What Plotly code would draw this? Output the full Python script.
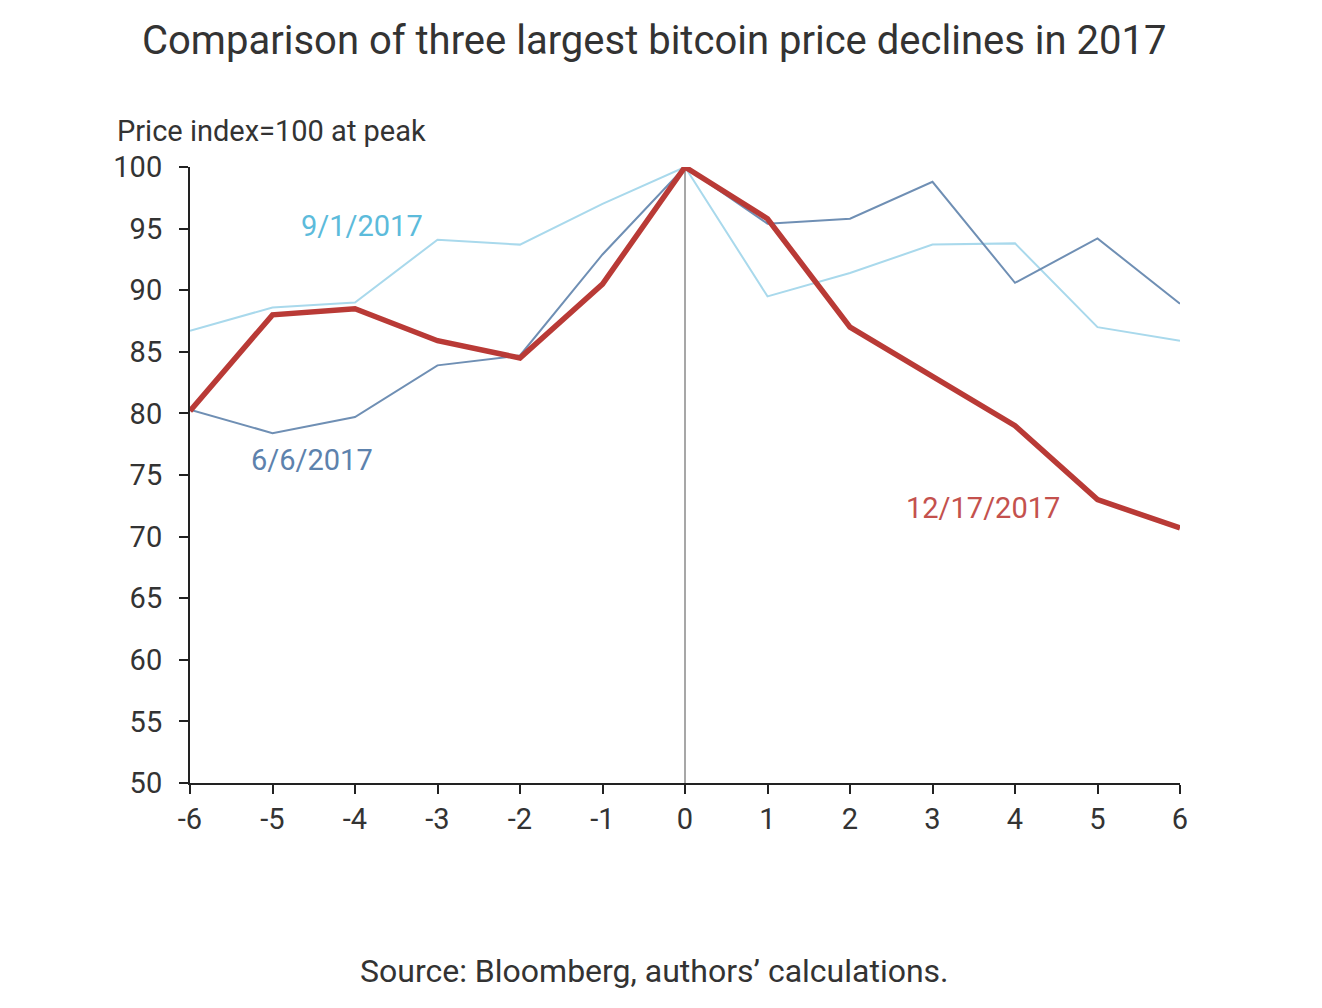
import plotly.graph_objects as go

months = [-6, -5, -4, -3, -2, -1, 0, 1, 2, 3, 4, 5, 6]
month_labels = ["-6", "-5", "-4", "-3", "-2", "-1", "0", "1", "2", "3", "4", "5", "6"]
dec_2017 = [80.2, 88.0, 88.5, 85.9, 84.5, 90.5, 100, 95.8, 87.0, 83.0, 79.0, 73.0, 70.7]
jun_2017 = [80.3, 78.4, 79.7, 83.9, 84.7, 92.9, 100, 95.4, 95.8, 98.8, 90.6, 94.2, 88.9]
sep_2017 = [86.7, 88.6, 89.0, 94.1, 93.7, 97.0, 100, 89.5, 91.4, 93.7, 93.8, 87.0, 85.9]

y_ticks = [50, 55, 60, 65, 70, 75, 80, 85, 90, 95, 100]

RED = "#b93a36"
DARK = "#6f8fb4"
LIGHT = "#a9d9ec"
FONT = "Roboto"
TXT = "#333333"

fig = go.Figure()
fig.add_trace(go.Scatter(x=months, y=sep_2017, mode="lines", line=dict(color=LIGHT, width=2), name="9/1/2017"))
fig.add_trace(go.Scatter(x=months, y=jun_2017, mode="lines", line=dict(color=DARK, width=2), name="6/6/2017"))
fig.add_trace(go.Scatter(x=months, y=dec_2017, mode="lines", line=dict(color=RED, width=5.5), name="12/17/2017"))

fig.add_shape(type="line", x0=0, x1=0, y0=50, y1=100, xref="x", yref="y",
              line=dict(color="#8a8a8a", width=1.5), layer="below")

fig.update_layout(
    width=1322, height=1008,
    margin=dict(l=182, r=150, t=159, b=233),
    paper_bgcolor="white", plot_bgcolor="white",
    showlegend=False,
    font=dict(family=FONT, color=TXT, size=29),
    xaxis=dict(range=[-6, 6], tickvals=months, ticktext=month_labels, showgrid=False, zeroline=False,
               showline=True, linecolor="#222222", linewidth=2,
               ticks="outside", ticklen=9, tickwidth=2, tickcolor="#222222",
               tickfont=dict(family=FONT, size=29, color=TXT), ticklabelstandoff=0),
    yaxis=dict(range=[50, 100], tickvals=y_ticks, showgrid=False, zeroline=False,
               showline=True, linecolor="#222222", linewidth=2,
               ticks="outside", ticklen=9, tickwidth=2, tickcolor="#222222",
               tickfont=dict(family=FONT, size=29, color=TXT), ticklabelstandoff=11),
    annotations=[
        dict(text="Comparison of three largest bitcoin price declines in 2017", xref="paper", yref="paper",
             x=0.469, y=1.206, showarrow=False, xanchor="center", yanchor="middle",
             font=dict(family=FONT, size=40, color=TXT)),
        dict(text="Price index=100 at peak", xref="paper", yref="paper",
             x=-0.0758, y=1.058, showarrow=False, xanchor="left", yanchor="middle",
             font=dict(family=FONT, size=29, color=TXT)),
        dict(text="Source: Bloomberg, authors’ calculations.", xref="paper", yref="paper",
             x=0.469, y=-0.305, showarrow=False, xanchor="center", yanchor="middle",
             font=dict(family=FONT, size=32, color=TXT)),
        dict(text="9/1/2017", x=-3.915, y=95.2, xref="x", yref="y", showarrow=False,
             font=dict(family=FONT, size=29, color="#5cbbdb")),
        dict(text="6/6/2017", x=-4.52, y=76.2, xref="x", yref="y", showarrow=False,
             font=dict(family=FONT, size=29, color="#5d82ad")),
        dict(text="12/17/2017", x=3.61, y=72.3, xref="x", yref="y", showarrow=False,
             font=dict(family=FONT, size=29, color="#c4514d")),
    ],
)

fig.write_html("out.html")
